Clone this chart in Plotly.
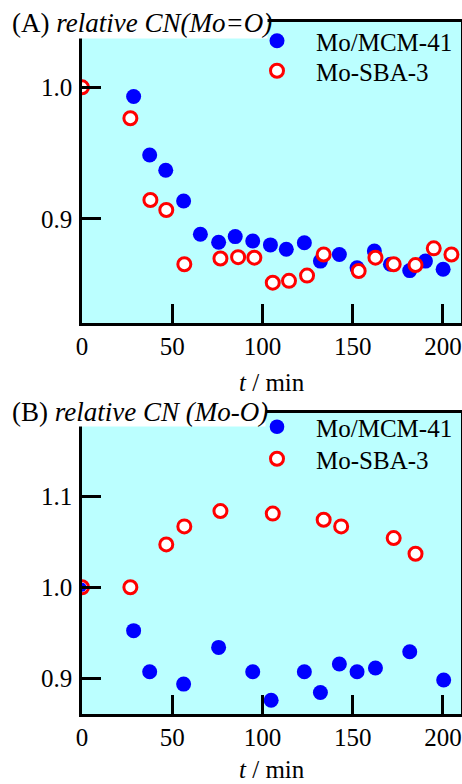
import plotly.graph_objects as go

# Panel A: relative CN (Mo=O)
a_mcm_t = [0, 28.6, 37.5, 46.4, 56.3, 65.6, 75.7, 84.9, 94.6, 104.4, 113.2, 123.2,
           132.1, 142.6, 152.4, 162.0, 170.9, 181.6, 190.3, 200.1]
a_mcm_cn = [1.0, 0.993, 0.9486, 0.937, 0.9137, 0.8884, 0.8823, 0.8866, 0.8833, 0.8803,
            0.877, 0.882, 0.868, 0.873, 0.863, 0.8757, 0.8656, 0.8608, 0.868, 0.8618]
a_sba_t = [0, 26.8, 37.9, 46.7, 56.7, 76.7, 86.5, 95.5, 105.7, 114.7, 124.7, 133.9,
           153.3, 162.6, 172.7, 184.8, 194.9, 204.7]
a_sba_cn = [1.0, 0.9765, 0.9144, 0.9068, 0.8656, 0.870, 0.871, 0.8706, 0.8516, 0.853,
            0.857, 0.873, 0.8605, 0.8706, 0.8656, 0.865, 0.8777, 0.873]

# Panel B: relative CN (Mo-O)
b_mcm_t = [0, 28.6, 37.5, 56.3, 75.7, 94.6, 104.8, 123.2, 132.1, 142.6, 152.4, 162.6,
           181.6, 200.4]
b_mcm_cn = [1.0, 0.9524, 0.9074, 0.8938, 0.934, 0.9074, 0.876, 0.9074, 0.8846, 0.9158,
            0.9074, 0.9114, 0.9293, 0.8982]
b_sba_t = [0, 26.8, 46.7, 56.7, 76.7, 105.7, 133.9, 143.6, 172.7, 184.8]
b_sba_cn = [1.0, 1.0, 1.0469, 1.0667, 1.0835, 1.0807, 1.074, 1.0667, 1.0539, 1.0367]

x_ticks = [0, 50, 100, 150, 200]
a_y_ticks = [0.9, 1.0]
b_y_ticks = [0.9, 1.0, 1.1]
a_y_labels = ["0.9", "1.0"]
b_y_labels = ["0.9", "1.0", "1.1"]

W, H = 462, 784
FONT = "Liberation Serif"
BLUE = "#0000ff"
RED = "#ff0000"
BG = "#bbffff"


def px_x(p):
    return p / W


def px_y(p):
    return 1 - p / H


fig = go.Figure()

blue_marker = dict(color=BLUE, size=15, opacity=1, line=dict(width=0))
red_marker = dict(color="white", size=13, opacity=1, line=dict(color=RED, width=3))

# Panel A: blue then red on top
fig.add_trace(go.Scatter(x=a_mcm_t, y=a_mcm_cn, mode="markers", name="Mo/MCM-41",
                         marker=blue_marker, xaxis="x", yaxis="y", legend="legend"))
fig.add_trace(go.Scatter(x=a_sba_t, y=a_sba_cn, mode="markers", name="Mo-SBA-3",
                         marker=red_marker, xaxis="x", yaxis="y", legend="legend2"))
# Panel B: red then blue (small blue dot at t=0 inside red ring)
b_sizes = [9] + [15] * (len(b_mcm_t) - 1)
fig.add_trace(go.Scatter(x=b_sba_t, y=b_sba_cn, mode="markers", name="Mo-SBA-3",
                         marker=red_marker, xaxis="x2", yaxis="y2", legend="legend4"))
fig.add_trace(go.Scatter(x=b_mcm_t, y=b_mcm_cn, mode="markers", name="Mo/MCM-41",
                         marker=dict(color=BLUE, size=b_sizes, opacity=1,
                                     line=dict(width=0)),
                         xaxis="x2", yaxis="y2", legend="legend3"))

axis_common = dict(showline=True, linecolor="black", linewidth=2.5, mirror=True,
                   ticks="inside", ticklen=19, tickwidth=2.5, tickcolor="black",
                   showgrid=False, zeroline=False, automargin=False,
                   tickfont=dict(family=FONT, size=25, color="black"))


def legend_at(ycenter):
    return dict(x=px_x(238), y=px_y(ycenter - 24), xanchor="left", yanchor="top",
                bgcolor="rgba(0,0,0,0)", itemwidth=68,
                font=dict(family=FONT, size=25))


xdom = [px_x(82), px_x(461)]
fig.update_layout(
    width=W, height=H,
    margin=dict(l=0, r=0, t=0, b=0, autoexpand=False),
    paper_bgcolor="white", plot_bgcolor=BG,
    font=dict(family=FONT, size=25, color="black"),
    xaxis=dict(domain=xdom, range=[0, 210], tickvals=x_ticks, anchor="y",
               ticklabelstandoff=-1, **axis_common),
    yaxis=dict(domain=[px_y(323), px_y(22)], range=[0.821, 1.0496],
               tickvals=a_y_ticks, ticktext=a_y_labels, anchor="x",
               ticklabelstandoff=2, **axis_common),
    xaxis2=dict(domain=xdom, range=[0, 210], tickvals=x_ticks, anchor="y2",
                ticklabelstandoff=-1, **axis_common),
    yaxis2=dict(domain=[px_y(714), px_y(413)], range=[0.861, 1.191],
                tickvals=b_y_ticks, ticktext=b_y_labels, anchor="x2",
                ticklabelstandoff=2, **axis_common),
    legend=legend_at(42),
    legend2=legend_at(72),
    legend3=legend_at(428),
    legend4=legend_at(460),
    showlegend=True,
)

# White boxes behind panel titles (annotations are drawn above the axis lines)
fig.add_annotation(text=" ", xref="paper", yref="paper", x=0, y=1,
                   xanchor="left", yanchor="top", width=264, height=35,
                   bgcolor="white", showarrow=False, borderpad=1)
fig.add_annotation(text=" ", xref="paper", yref="paper", x=0, y=px_y(398),
                   xanchor="left", yanchor="top", width=262, height=25,
                   bgcolor="white", showarrow=False, borderpad=1)

fig.add_annotation(text="(A) <i>relative CN(Mo=O)</i>", xref="paper", yref="paper",
                   x=px_x(10), y=px_y(23), xanchor="left", yanchor="middle",
                   showarrow=False, font=dict(family=FONT, size=27))
fig.add_annotation(text="(B) <i>relative CN (Mo-O)</i>", xref="paper", yref="paper",
                   x=px_x(10), y=px_y(412), xanchor="left", yanchor="middle",
                   showarrow=False, font=dict(family=FONT, size=27))
fig.add_annotation(text="<i>t</i> / min", xref="paper", yref="paper",
                   x=px_x(272), y=px_y(383), xanchor="center", yanchor="middle",
                   showarrow=False, font=dict(family=FONT, size=25))
fig.add_annotation(text="<i>t</i> / min", xref="paper", yref="paper",
                   x=px_x(272), y=px_y(769), xanchor="center", yanchor="middle",
                   showarrow=False, font=dict(family=FONT, size=25))

fig.write_html(
    "out.html",
    config={"displayModeBar": False},
    post_script="document.body.style.margin='0';document.body.style.padding='0';"
                "document.body.style.overflow='hidden';"
                "document.documentElement.style.overflow='hidden';",
)
